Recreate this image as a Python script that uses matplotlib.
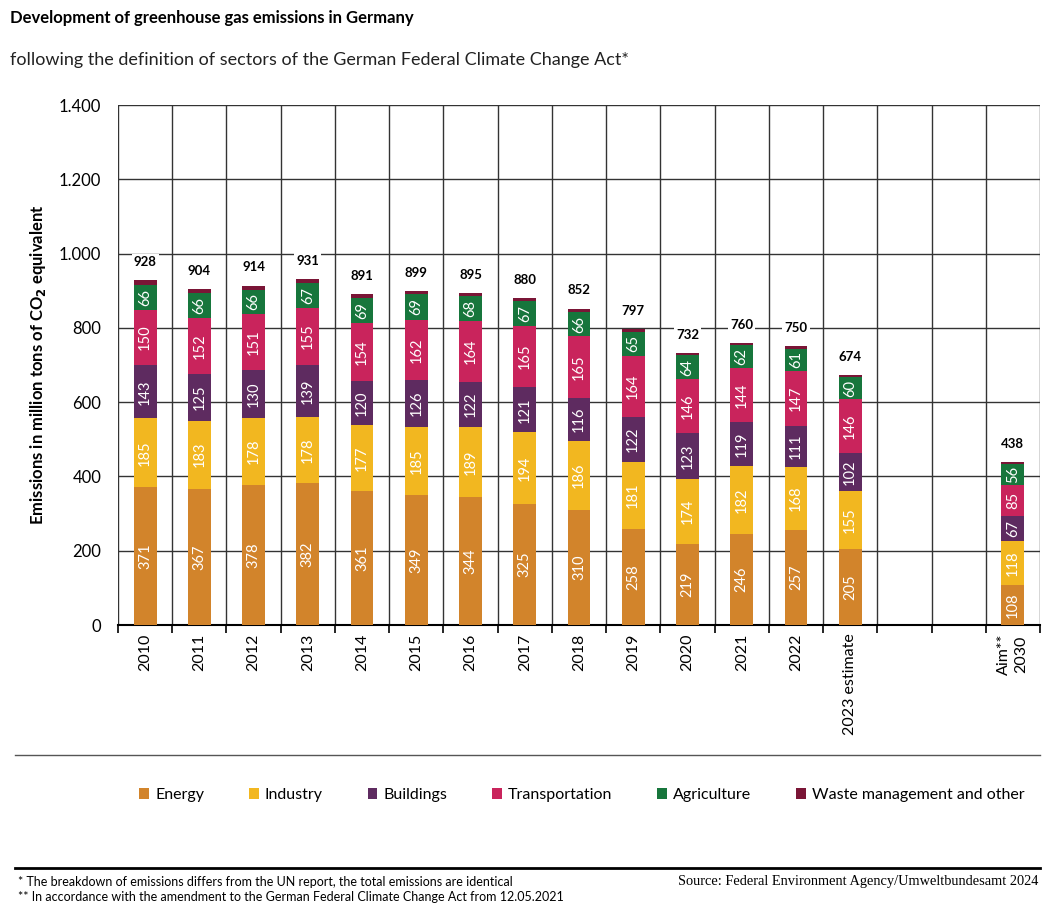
import numpy as np
import matplotlib.pyplot as plt
from matplotlib.lines import Line2D
from matplotlib.patches import Patch

plt.rcParams['font.family'] = ['Lato', 'DejaVu Sans']

# data (million tons CO2 equivalent)
years = ["2010", "2011", "2012", "2013", "2014", "2015", "2016", "2017",
         "2018", "2019", "2020", "2021", "2022", "2023 estimate", "Aim**\n2030"]
energy = [371, 367, 378, 382, 361, 349, 344, 325, 310, 258, 219, 246, 257, 205, 108]
industry = [185, 183, 178, 178, 177, 185, 189, 194, 186, 181, 174, 182, 168, 155, 118]
buildings = [143, 125, 130, 139, 120, 126, 122, 121, 116, 122, 123, 119, 111, 102, 67]
transport = [150, 152, 151, 155, 154, 162, 164, 165, 165, 164, 146, 144, 147, 146, 85]
agriculture = [66, 66, 66, 67, 69, 69, 68, 67, 66, 65, 64, 62, 61, 60, 56]
waste = [13, 11, 11, 10, 10, 8, 8, 8, 9, 7, 6, 7, 6, 6, 4]
totals = [928, 904, 914, 931, 891, 899, 895, 880, 852, 797, 732, 760, 750, 674, 438]

sectors = ["Energy", "Industry", "Buildings", "Transportation", "Agriculture",
           "Waste management and other"]
colors = ["#D2842B", "#F2B720", "#5E2B60", "#C9245C", "#17763C", "#7A1536"]

series = [energy, industry, buildings, transport, agriculture, waste]

fig = plt.figure(figsize=(10.48, 9.09), dpi=100)
ax = fig.add_axes([118 / 1048, 1 - 625 / 909, 922 / 1048, 520 / 909])

# two empty slots before the 2030 target
x = np.arange(len(years))
x[-1] += 2

bottom = np.zeros(len(years))
for name, vals, col in zip(sectors, series, colors):
    vals = np.array(vals)
    ax.bar(x, vals, width=0.42, bottom=bottom, color=col, label=name, zorder=3)
    if name != sectors[-1]:
        for xi, b, v in zip(x, bottom, vals):
            ax.text(xi, b + v / 2, str(v), rotation=90, ha='center', va='center',
                    color='white', fontsize=10.5, zorder=4)
    bottom += vals

for xi, t in zip(x, totals):
    ax.annotate(str(t), (xi, t), xytext=(0, 13), textcoords='offset points',
                ha='center', va='center', fontsize=9.5, fontweight='bold',
                bbox=dict(facecolor='white', edgecolor='none', pad=1.5), zorder=5)

ax.set_xlim(-0.5, 16.5)
ax.set_ylim(0, 1400)
ax.set_yticks(np.arange(0, 1401, 200))
ax.set_yticklabels([f"{v:,}".replace(",", ".") for v in range(0, 1401, 200)],
                   fontsize=12)
ax.grid(axis='y', color='#333333', linewidth=1, zorder=0)
for b in np.arange(-0.5, 17, 1):
    ax.axvline(b, color='#333333', linewidth=1, zorder=0)

ax.set_xticks(x)
ax.set_xticklabels(years, rotation=90, fontsize=11.5, va='top', linespacing=1.3)
ax.tick_params(axis='x', length=0, pad=6)
ax.set_xticks(np.arange(-0.5, 17, 1), minor=True)
ax.tick_params(axis='x', which='minor', length=6, width=1.2, color='black', direction='out')
ax.tick_params(axis='y', length=0, pad=12)
for s in ['top', 'right', 'left']:
    ax.spines[s].set_visible(False)
ax.spines['bottom'].set_linewidth(1.5)
ax.set_ylabel("Emissions in million tons of CO$_\\mathbf{2}$ equivalent",
              fontsize=12, fontweight='bold', labelpad=8)

fig.text(10 / 1048, 1 - 18 / 909, "Development of greenhouse gas emissions in Germany",
         fontsize=12, fontweight='bold', va='center')
fig.text(10 / 1048, 1 - 60 / 909,
         "following the definition of sectors of the German Federal Climate Change Act*",
         fontsize=13, va='center', color='#222222')

fig.add_artist(Line2D([15 / 1048, 1040 / 1048], [1 - 755 / 909] * 2,
                      color='#555555', linewidth=1))
fig.add_artist(Line2D([15 / 1048, 1040 / 1048], [1 - 868 / 909] * 2,
                      color='black', linewidth=2))

handles = [Patch(facecolor=c, label=n) for n, c in zip(sectors, colors)]
fig.legend(handles=handles, loc='center', bbox_to_anchor=(582 / 1048, 1 - 795 / 909),
           ncol=6, frameon=False, fontsize=11.5, handlelength=0.6, handleheight=0.7,
           handletextpad=0.4, columnspacing=2.8)

fig.text(18 / 1048, 1 - 882 / 909,
         "* The breakdown of emissions differs from the UN report, the total emissions are identical",
         fontsize=9, va='center')
fig.text(18 / 1048, 1 - 897 / 909,
         "** In accordance with the amendment to the German Federal Climate Change Act from 12.05.2021",
         fontsize=9, va='center')
fig.text(1038 / 1048, 1 - 882 / 909,
         "Source: Federal Environment Agency/Umweltbundesamt 2024",
         fontsize=10.4, va='center', ha='right', family=['Liberation Serif', 'DejaVu Serif'])

fig.savefig("out.png", dpi=100, facecolor='white')
